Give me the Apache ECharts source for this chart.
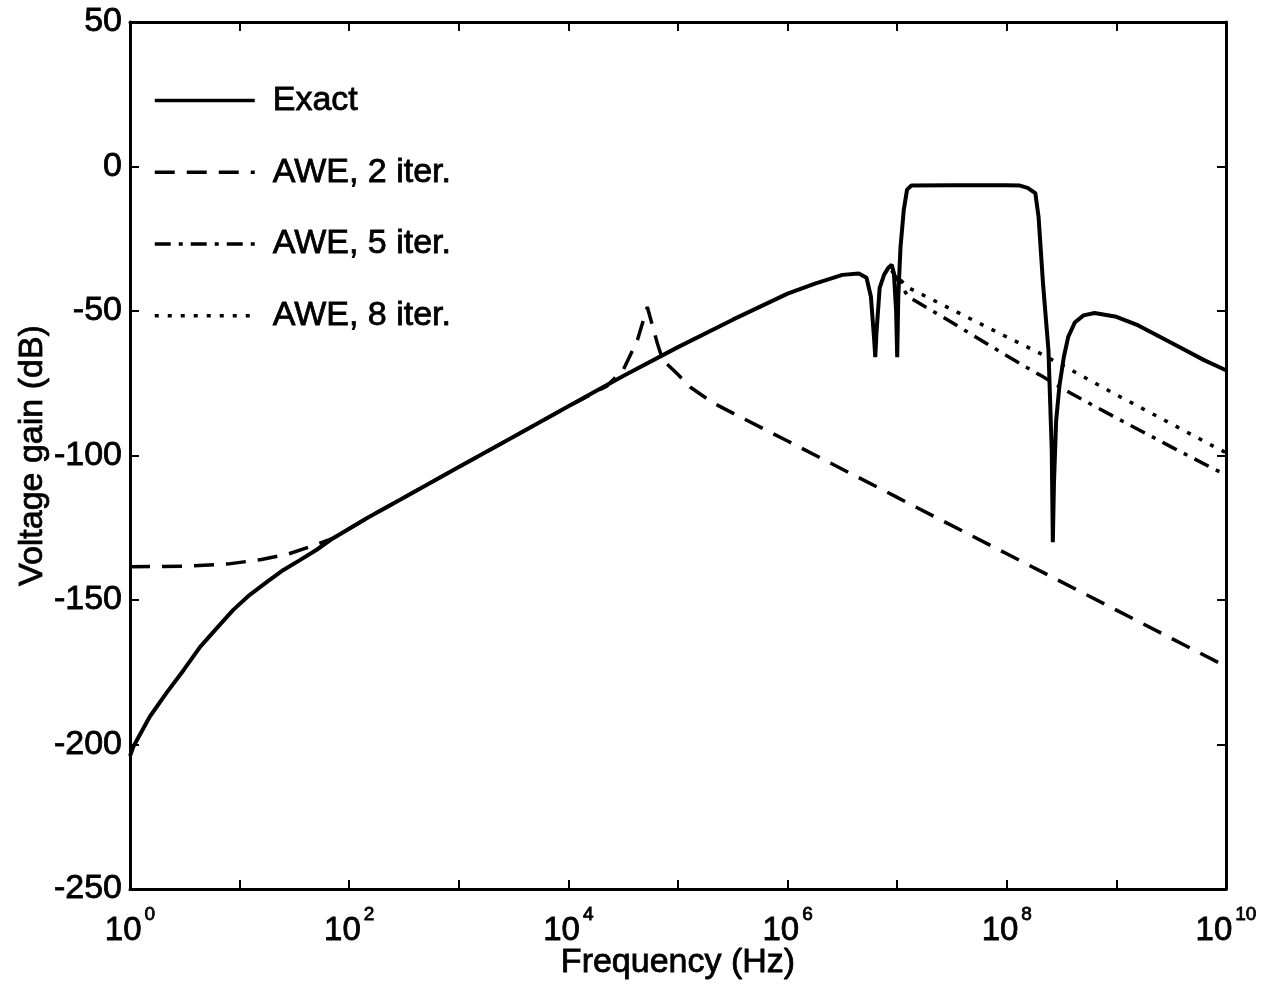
<!DOCTYPE html>
<html>
<head>
<meta charset="utf-8">
<script src="https://cdn.jsdelivr.net/npm/echarts@6/dist/echarts.min.js"></script>
<style>
  html, body { margin: 0; background: #fff; }
  #chart { width: 1264px; height: 985px; }
</style>
</head>
<body>
<div id="chart"></div>
<script>
// frequency is kept as log10(Hz), gain in dB
const xTicks = [0, 1, 2, 3, 4, 5, 6, 7, 8, 9, 10];
const yTicks = [-250, -200, -150, -100, -50, 0, 50];

const exactLogF = [0, 0.03, 0.18, 0.33, 0.49, 0.64, 0.79, 0.94, 1.09, 1.25, 1.4, 1.55, 1.7, 1.85, 2.16, 2.46,
  3.0, 3.5, 4.0, 4.5, 5.0, 5.5, 5.75, 6.0, 6.25, 6.5, 6.65, 6.72, 6.76, 6.79, 6.8, 6.81, 6.84, 6.88, 6.92,
  6.95, 6.97, 6.99, 7.0, 7.01, 7.03, 7.06, 7.09, 7.13, 7.5, 8.0, 8.12, 8.19, 8.26, 8.29, 8.33, 8.38, 8.41,
  8.42, 8.43, 8.45, 8.48, 8.52, 8.56, 8.62, 8.7, 8.8, 9.0, 9.2, 9.4, 9.6, 9.8, 10];
const exactGain = [-204, -200.8, -190.4, -182.3, -174.2, -166.2, -159.8, -153.5, -148.3, -143.7, -139.6, -136.2, -132.7, -128.7, -121.7, -115.4,
  -104, -93.5, -83, -72.5, -62.5, -53, -48.5, -44, -40.5, -37.5, -37, -38.5, -45, -60, -66, -58, -42, -37.5, -35,
  -34, -37, -50, -66, -45, -28, -15, -8, -6.6, -6.5, -6.5, -6.6, -7.4, -9.2, -17.5, -40.3, -63.5, -98,
  -130, -110, -88, -76, -66, -59, -54, -51.5, -50.7, -52, -55, -59, -63, -67, -70.5];

const awe2LogF = [0, 0.5, 0.9, 1.2, 1.45, 1.65, 1.85, 2.16, 2.46, 3.0, 3.5, 4.0, 4.35, 4.5, 4.63, 4.72,
  4.81, 4.86, 5.0, 5.11, 5.32, 5.57, 6.0, 7.0, 8.0, 9.0, 10];
const awe2Gain = [-138.5, -138.3, -137.5, -136, -134, -131.5, -128.7, -121.7, -115.4, -104, -93.5, -83, -76, -70.4, -60, -48.6,
  -61, -66.9, -72, -76.3, -81.8, -86.7, -95, -114.5, -134, -153.5, -173];

const awe5LogF = [6.95, 7.1, 7.5, 8.0, 8.3, 8.58, 9.0, 9.5, 9.87, 10];
const awe5Gain = [-36, -45, -54, -65.5, -72.1, -78.4, -87, -97, -104.3, -106.7];

const awe8LogF = [6.95, 7.09, 7.5, 8.0, 8.28, 8.62, 9.0, 9.5, 9.9, 10];
const awe8Gain = [-36, -41.7, -49.5, -59, -64.2, -71.1, -79, -89, -97.1, -99];

const pairs = (xs, ys) => xs.map((x, i) => [x, ys[i]]);

const font = 'Liberation Sans, Arial, Helvetica, sans-serif';
const black = '#000';
// the scanned lettering is heavy, a thin outline gives that weight
const heavy = { textBorderColor: black, textBorderWidth: 0.8 };

const myChart = echarts.init(document.getElementById('chart'));

const axisLine = { onZero: false, lineStyle: { color: black, width: 3 } };
const axisTick = { inside: true, length: 9, lineStyle: { color: black, width: 2 } };

myChart.setOption({
  animation: false,
  backgroundColor: '#fff',
  grid: { left: 130, right: 38, top: 22, bottom: 96, containLabel: false, outerBoundsMode: 'none' },
  legend: {
    orient: 'vertical',
    left: 148,
    top: 78,
    itemWidth: 100,
    itemHeight: 30,
    itemGap: 37,
    selectedMode: false,
    itemStyle: { color: 'rgba(0,0,0,0)', borderWidth: 0 },
    lineStyle: { width: 3.5 },
    textStyle: Object.assign({ fontFamily: font, fontSize: 34, color: black, padding: [0, 0, 0, 13] }, heavy),
    data: ['Exact', 'AWE, 2 iter.', 'AWE, 5 iter.', 'AWE, 8 iter.']
  },
  xAxis: [{
    type: 'value',
    min: xTicks[0],
    max: xTicks[xTicks.length - 1],
    interval: 1,
    name: 'Frequency (Hz)',
    nameLocation: 'middle',
    nameGap: 57,
    nameMoveOverlap: false,
    nameTextStyle: Object.assign({ fontFamily: font, fontSize: 34, color: black }, heavy),
    axisLine: axisLine,
    axisTick: axisTick,
    splitLine: { show: false },
    axisLabel: {
      margin: 16,
      formatter: v => (v % 2 === 0 ? '{b|10}{s|' + v + '}' : ''),
      rich: {
        b: Object.assign({ fontFamily: font, fontSize: 33, lineHeight: 51, color: black }, heavy),
        s: Object.assign({ fontFamily: font, fontSize: 19, lineHeight: 19, color: black, verticalAlign: 'top', padding: [0, 0, 0, 3] }, heavy)
      }
    }
  }, {
    type: 'value',
    position: 'top',
    min: xTicks[0],
    max: xTicks[xTicks.length - 1],
    interval: 1,
    axisLine: axisLine,
    axisTick: axisTick,
    splitLine: { show: false },
    axisLabel: { show: false }
  }],
  yAxis: [{
    type: 'value',
    min: yTicks[0],
    max: yTicks[yTicks.length - 1],
    interval: 50,
    name: 'Voltage gain (dB)',
    nameLocation: 'middle',
    nameGap: 80,
    nameMoveOverlap: false,
    nameTextStyle: Object.assign({ fontFamily: font, fontSize: 34, color: black }, heavy),
    axisLine: axisLine,
    axisTick: axisTick,
    splitLine: { show: false },
    axisLabel: Object.assign({ margin: 8, fontFamily: font, fontSize: 34, color: black }, heavy)
  }, {
    type: 'value',
    position: 'right',
    min: yTicks[0],
    max: yTicks[yTicks.length - 1],
    interval: 50,
    axisLine: axisLine,
    axisTick: axisTick,
    splitLine: { show: false },
    axisLabel: { show: false }
  }],
  series: [{
    name: 'AWE, 2 iter.',
    type: 'line',
    symbol: 'none',
    data: pairs(awe2LogF, awe2Gain),
    lineStyle: { color: black, width: 3.5, type: [20, 12] },
    itemStyle: { color: black },
    z: 2
  }, {
    name: 'AWE, 5 iter.',
    type: 'line',
    symbol: 'none',
    data: pairs(awe5LogF, awe5Gain),
    lineStyle: { color: black, width: 3.5, type: [16, 8, 4, 8] },
    itemStyle: { color: black },
    z: 2
  }, {
    name: 'AWE, 8 iter.',
    type: 'line',
    symbol: 'none',
    data: pairs(awe8LogF, awe8Gain),
    lineStyle: { color: black, width: 3.5, type: [4, 9] },
    itemStyle: { color: black },
    z: 2
  }, {
    name: 'Exact',
    type: 'line',
    symbol: 'none',
    data: pairs(exactLogF, exactGain),
    lineStyle: { color: black, width: 4, type: 'solid' },
    itemStyle: { color: black },
    z: 3
  }]
});

window.onresize = function () {
  myChart.resize();
};
</script>
</body>
</html>
